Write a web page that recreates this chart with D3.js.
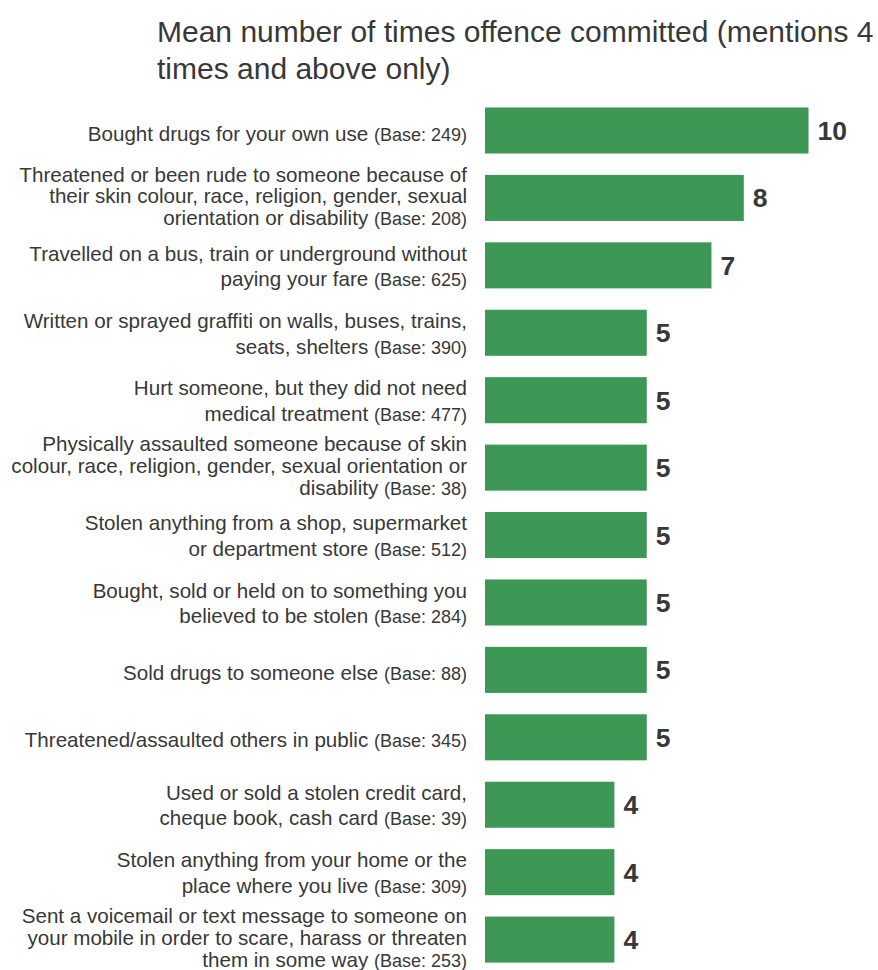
<!DOCTYPE html>
<html>
<head>
<meta charset="utf-8">
<script src="https://cdn.jsdelivr.net/npm/d3@7"></script>
<style>
  html, body { margin: 0; padding: 0; background: #ffffff; }
  svg { display: block; font-family: "Liberation Sans", Arial, Helvetica, sans-serif; }
</style>
</head>
<body>
<svg id="chart" width="878" height="970"></svg>
<script>
// Offence descriptions, one array entry per wrapped line
const categories = [
  ["Bought drugs for your own use"],
  ["Threatened or been rude to someone because of", "their skin colour, race, religion, gender, sexual", "orientation or disability"],
  ["Travelled on a bus, train or underground without", "paying your fare"],
  ["Written or sprayed graffiti on walls, buses, trains,", "seats, shelters"],
  ["Hurt someone, but they did not need", "medical treatment"],
  ["Physically assaulted someone because of skin", "colour, race, religion, gender, sexual orientation or", "disability"],
  ["Stolen anything from a shop, supermarket", "or department store"],
  ["Bought, sold or held on to something you", "believed to be stolen"],
  ["Sold drugs to someone else"],
  ["Threatened/assaulted others in public"],
  ["Used or sold a stolen credit card,", "cheque book, cash card"],
  ["Stolen anything from your home or the", "place where you live"],
  ["Sent a voicemail or text message to someone on", "your mobile in order to scare, harass or threaten", "them in some way"]
];

// Respondent base for each offence
const bases = [249, 208, 625, 390, 477, 38, 512, 284, 88, 345, 39, 309, 253];

// Mean number of times the offence was committed
const values = [10, 8, 7, 5, 5, 5, 5, 5, 5, 5, 4, 4, 4];

const titleLines = ["Mean number of times offence committed (mentions 4", "times and above only)"];

const svg = d3.select("#chart");
const textColor = "#383838";
const barColor = "#3d9856";

const ids = categories.map((_, i) => i);

const y = d3.scaleBand()
  .domain(ids)
  .range([96.8, 973.3])
  .paddingInner(0.317)
  .paddingOuter(0.1585);

const x = d3.scaleLinear()
  .domain([0, 10])
  .range([485, 808.5]);

// Title
svg.append("text")
  .attr("x", 157)
  .attr("y", 42)
  .attr("fill", textColor)
  .style("font-size", "30px")
  .selectAll("tspan")
  .data(titleLines)
  .join("tspan")
  .attr("x", 157)
  .attr("dy", (d, i) => i === 0 ? 0 : 36.5)
  .text(d => d);

// Bars
svg.append("g")
  .selectAll("rect")
  .data(ids)
  .join("rect")
  .attr("x", x(0))
  .attr("y", i => y(i))
  .attr("width", i => x(values[i]) - x(0))
  .attr("height", y.bandwidth())
  .attr("fill", barColor);

// Value labels
svg.append("g")
  .selectAll("text")
  .data(ids)
  .join("text")
  .attr("x", i => x(values[i]) + 9)
  .attr("y", i => y(i) + y.bandwidth() / 2 + 9.5)
  .attr("fill", textColor)
  .style("font-size", "26.5px")
  .style("font-weight", "bold")
  .text(i => values[i]);

// Category labels, right aligned next to the bars
const labelX = 467;
const labels = svg.append("g")
  .selectAll("text")
  .data(ids)
  .join("text")
  .attr("text-anchor", "end")
  .attr("fill", textColor)
  .style("font-size", "20.6px");

labels.each(function (i) {
  const lines = categories[i];
  const n = lines.length;
  const gap = n >= 3 ? 21.8 : 25.5;
  const mid = n === 1 ? 10 : (n === 2 ? 8 : 5.5);
  const cy = y(i) + y.bandwidth() / 2;
  const first = cy + mid - gap * (n - 1) / 2;
  const t = d3.select(this);
  lines.forEach((line, k) => {
    const isLast = k === n - 1;
    t.append("tspan")
      .attr("x", labelX)
      .attr("y", first + k * gap)
      .text(isLast ? line + " " : line);
    if (isLast) {
      t.append("tspan")
        .style("font-size", "18px")
        .text("(Base: " + bases[i] + ")");
    }
  });
});
</script>
</body>
</html>
